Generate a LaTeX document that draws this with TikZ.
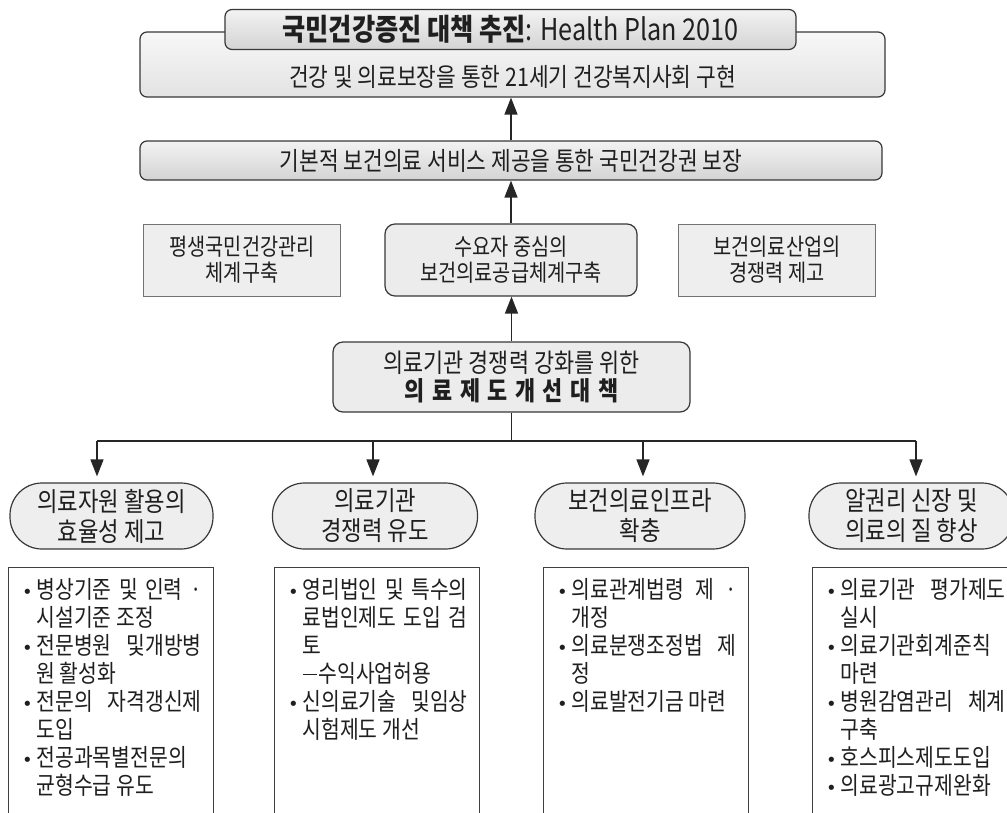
\documentclass[tikz,border=0pt]{standalone}
\usepackage{fontspec}
\setmainfont{Noto Sans CJK KR}[FakeStretch=0.84]
\newfontfamily\dejavu{DejaVu Sans}
\usetikzlibrary{arrows.meta}
\newcommand\bul{\makebox[16pt][l]{\hspace*{1.5pt}{\dejavu\fontsize{18}{18}\selectfont •}}}
\newcommand\ind{\hspace*{16pt}}
\newcommand\jus[1]{\makebox[165pt][s]{#1}}
\newcommand\lsp{\hspace{7.5pt}}
\newcommand\mdash{\rule[7.5pt]{14pt}{1.2pt}\hspace{2pt}}
\begin{document}
\begin{tikzpicture}[x=1pt,y=-1pt,
  every node/.style={text=black!88},
  frame/.style={draw=black!78, line width=1.2pt, inner sep=0pt},
  shadedbox/.style={frame, rounded corners=7pt, top color=gray!10, bottom color=gray!34},
  flatbox/.style={draw=black!55, line width=1pt, fill=gray!13, inner sep=0pt, minimum width=197pt, minimum height=72pt, align=center, font=\fontsize{23.5}{26}\selectfont},
  roundbox/.style={frame, rounded corners=10pt, fill=gray!15, align=center},
  pill/.style={frame, rounded corners=32pt, fill=gray!13, minimum width=205pt, minimum height=66pt, align=center, font=\fontsize{26.5}{30}\selectfont},
  detail/.style={draw=black!75, line width=1.2pt, fill=white, inner xsep=12pt, inner ysep=11pt, anchor=north west, font=\fontsize{24.3}{28}\selectfont},
  conn/.style={draw=black!85, line width=1.3pt},
  arr/.style={conn, -{Triangle[width=13pt,length=17pt]}}
]
\clip (0,0) rectangle (1007,812);
\fill[white] (0,0) rectangle (1007,812);

\node[shadedbox, top color=gray!6, bottom color=gray!22, minimum width=745pt, minimum height=65pt, font=\fontsize{25.5}{28}\selectfont, text height=44pt, text depth=0pt] (big) at (512.5,64.5) {건강 및 의료보장을 통한 21세기 건강복지사회 구현};
\node[shadedbox, minimum width=571pt, minimum height=40pt, font=\fontsize{30}{32}\selectfont] (ttl) at (510.5,29.5) {\textbf{국민건강증진 대책 추진}: Health Plan 2010};
\node[shadedbox, minimum width=742pt, minimum height=39pt, font=\fontsize{25.5}{28}\selectfont] (sec) at (511,160.5) {기본적 보건의료 서비스 제공을 통한 국민건강권 보장};

\node[flatbox] (lft) at (242,260) {평생국민건강관리\\체계구축};
\node[roundbox, minimum width=252pt, minimum height=72pt, font=\fontsize{23.5}{26}\selectfont] (mid) at (511,260) {수요자 중심의\\보건의료공급체계구축};
\node[flatbox] (rgt) at (777,260) {보건의료산업의\\경쟁력 제고};

\node[roundbox, minimum width=357pt, minimum height=70pt, font=\fontsize{26}{28}\selectfont] (pol) at (511.5,377) {의료기관 경쟁력 강화를 위한\\\textbf{의\lsp 료\lsp 제\lsp 도\lsp 개\lsp 선\lsp 대\lsp 책}};

\draw[arr] (sec.north) -- (sec.north |- big.south);
\draw[arr] (mid.north) -- (mid.north |- sec.south);
\draw[arr] (pol.north) -- (pol.north |- mid.south);

\coordinate (busy) at (0,441);
\coordinate (a1) at (97,441);
\coordinate (a2) at (373,441);
\coordinate (a3) at (643,441);
\coordinate (a4) at (916,441);
\draw[conn] (pol.south) -- (pol.south |- busy);
\draw[conn] (a1) -- (a4);

\node[pill, minimum width=203pt] (p1) at (111.5,516) {의료자원 활용의\\효율성 제고};
\node[pill] (p2) at (375,516) {의료기관\\경쟁력 유도};
\node[pill, minimum width=210pt] (p3) at (640,516) {보건의료인프라\\확충};
\node[pill] (p4) at (911.5,516) {알권리 신장 및\\의료의 질 향상};

\draw[arr, shorten >=6pt] (a1) -- (a1 |- p1.north);
\draw[arr, shorten >=6pt] (a2) -- (a2 |- p2.north);
\draw[arr, shorten >=6pt] (a3) -- (a3 |- p3.north);
\draw[arr, shorten >=6pt] (a4) -- (a4 |- p4.north);

\node[detail] (d1) at (8,567) {\parbox[t][280pt][t]{181pt}{\raggedright
\bul\jus{병상기준 및 인력 ·}\\
\ind 시설기준 조정\\
\bul\jus{전문병원 및개방병}\\
\ind 원 활성화\\
\bul\jus{전문의 자격갱신제}\\
\ind 도입\\
\bul\jus{전공과목별전문의}\\
\ind 균형수급 유도}};

\node[detail] (d2) at (274,567) {\parbox[t][280pt][t]{181pt}{\raggedright
\bul\jus{영리법인 및 특수의}\\
\ind\jus{료법인제도 도입 검}\\
\ind 토\\
\ind\mdash 수익사업허용\\
\bul\jus{신의료기술 및임상}\\
\ind 시험제도 개선}};

\node[detail] (d3) at (543,567) {\parbox[t][280pt][t]{181pt}{\raggedright
\bul\jus{의료관계법령 제 ·}\\
\ind 개정\\
\bul\jus{의료분쟁조정법 제}\\
\ind 정\\
\bul 의료발전기금 마련}};

\node[detail] (d4) at (812,567) {\parbox[t][280pt][t]{181pt}{\raggedright
\bul\jus{의료기관 평가제도}\\
\ind 실시\\
\bul\jus{의료기관회계준칙}\\
\ind 마련\\
\bul\jus{병원감염관리 체계}\\
\ind 구축\\
\bul 호스피스제도도입\\
\bul 의료광고규제완화}};
\end{tikzpicture}
\end{document}
